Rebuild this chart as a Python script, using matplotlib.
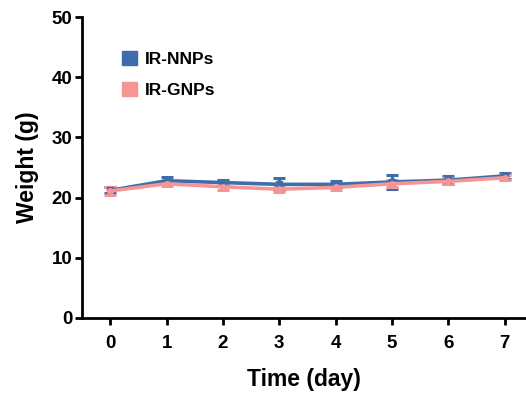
import matplotlib
matplotlib.use("Agg")
import matplotlib.pyplot as plt
from matplotlib.patches import Patch

plt.rcParams["font.family"] = ["Liberation Sans", "DejaVu Sans"]
plt.rcParams["font.weight"] = "bold"

days = [0, 1, 2, 3, 4, 5, 6, 7]
nnp_weight = [21.2, 22.8, 22.5, 22.2, 22.2, 22.6, 22.9, 23.6]
nnp_err = [0.5, 0.6, 0.5, 1.0, 0.5, 1.1, 0.7, 0.5]
gnp_weight = [21.1, 22.3, 21.8, 21.4, 21.7, 22.3, 22.7, 23.3]
gnp_err = [0.6, 0.4, 0.6, 0.5, 0.4, 0.6, 0.5, 0.4]

blue = "#3d6eab"
pink = "#f79494"

fig = plt.figure(figsize=(5.26, 3.96), dpi=100)
ax = fig.add_axes([0.156, 0.197, 0.844, 0.760])

ax.errorbar(days, nnp_weight, yerr=nnp_err, color=blue, lw=2.6,
            elinewidth=2.2, capsize=4, capthick=2.2, marker="s", ms=4)
ax.errorbar(days, gnp_weight, yerr=gnp_err, color=pink, lw=2.6,
            elinewidth=2.2, capsize=4, capthick=2.2, marker="o", ms=4)

ax.set_xlim(-0.5, 7.38)
ax.set_ylim(0, 50)
ax.set_xticks(days)
ax.set_yticks([0, 10, 20, 30, 40, 50])
ax.spines["top"].set_visible(False)
ax.spines["right"].set_visible(False)
for side in ("left", "bottom"):
    ax.spines[side].set_linewidth(2)
ax.tick_params(axis="both", width=2, length=5, labelsize=13.5, direction="out")
ax.tick_params(axis="y", pad=2)
ax.tick_params(axis="x", pad=7)

ax.set_xlabel("Time (day)", fontsize=16.5, fontweight="bold", labelpad=12)
ax.set_ylabel("Weight (g)", fontsize=16.5, fontweight="bold", labelpad=9)

handles = [Patch(color=blue, label="IR-NNPs"), Patch(color=pink, label="IR-GNPs")]
ax.legend(handles=handles, loc="upper left", bbox_to_anchor=(0.055, 0.94),
          frameon=False, prop={"size": 12.5, "weight": "bold"},
          handlelength=0.85, handleheight=0.85, handletextpad=0.45, labelspacing=0.9)

fig.savefig("out.png", dpi=100)
